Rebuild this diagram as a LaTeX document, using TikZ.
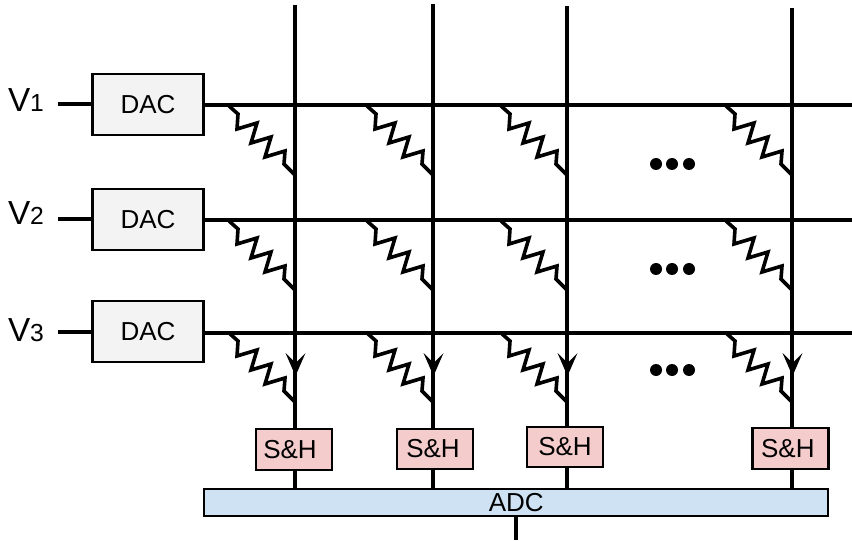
\documentclass[tikz,border=0pt]{standalone}
\usepackage{fontspec}
\setmainfont{Liberation Sans}
\definecolor{dacfill}{HTML}{F3F3F3}
\definecolor{shfill}{HTML}{F4CCCC}
\definecolor{adcfill}{HTML}{CFE2F3}
\tikzset{
  boxbase/.style={draw=black,line width=1.6pt,inner sep=0pt,outer sep=0pt,font=\fontsize{19.5pt}{22pt}\selectfont},
  dacbox/.style={boxbase,fill=dacfill,minimum width=83.25pt,minimum height=45.75pt},
  shbox/.style={boxbase,fill=shfill,minimum width=57pt,minimum height=30.5pt},
  adcbox/.style={boxbase,fill=adcfill,minimum width=467.75pt,minimum height=20.25pt},
  wire/.style={line width=3pt},
  reswire/.style={line width=2.7pt,line join=miter,miter limit=4},
  volt/.style={anchor=base west,inner sep=0pt,outer sep=0pt,font=\fontsize{25pt}{28pt}\selectfont},
  dotmark/.style={circle,fill=black,inner sep=0pt,minimum size=9pt}
}
\newcommand{\vlabel}[1]{V{\fontsize{18.5pt}{20pt}\selectfont #1}}
\begin{document}
\begin{tikzpicture}[x=0.75pt,y=-0.75pt]
\useasboundingbox (0,0) rectangle (852,541);
% boxes
\node[dacbox] (d1) at (148,104.5) {DAC};
\node[dacbox] (d2) at (148,219.5) {DAC};
\node[dacbox] (d3) at (148,331.5) {DAC};
\node[shbox] (s1) at (294,449.5) {S\&H\kern6pt};
\node[shbox] (s2) at (435,449) {S\&H\kern3pt};
\node[shbox] (s3) at (565,447) {S\&H};
\node[shbox] (s4) at (790.5,448.5) {S\&H\kern4pt};
\node[adcbox] (adc) at (516.25,502.5) {ADC};
% labels
\node[volt] (v1) at (8,112) {\vlabel{1}};
\node[volt] (v2) at (8,225) {\vlabel{2}};
\node[volt] (v3) at (8,341) {\vlabel{3}};
% free ends
\coordinate (l1) at (58,104.5);
\coordinate (l2) at (58,219.5);
\coordinate (l3) at (58,331.5);
\coordinate (r1) at (852,105.5);
\coordinate (r2) at (852,220.5);
\coordinate (r3) at (852,332.5);
\coordinate (t1) at (295,5);
\coordinate (t2) at (433,4);
\coordinate (t3) at (567,6);
\coordinate (t4) at (792,8);
\coordinate (out) at (516,540);
% input stubs and row lines
\foreach \i in {1,2,3}{
  \draw[wire] (l\i) -- (d\i.west);
  \draw[wire] (d\i.east |- r\i) -- (r\i);
}
% column lines
\foreach \i in {1,2,3,4}{
  \draw[wire] (t\i) -- (s\i.north -| t\i);
  \draw[wire] (s\i.south -| t\i) -- (adc.north -| t\i);
}
\draw[wire] (adc.south -| out) -- (out);
% resistors
\foreach \cx in {295,433,567,792}{
  \foreach \ry in {105,220,332}{
    \draw[reswire,shift={(\cx,\ry)}]
      (-66,1) -- (-57,9) -- (-58,24) -- (-38,18) -- (-44,38) -- (-24,32)
      -- (-30,52) -- (-10,46) -- (-11,59) -- (0,70);
  }
}
% arrowheads
\foreach \cx in {295.5,433.5,567.5,792.5}{
  \fill[shift={(\cx,0)}] (0,376) -- (-10,353) -- (0,363) -- (10,353) -- cycle;
}
% ellipsis dots
\foreach \dy in {164,269,370}{
  \foreach \dx in {656,672,689}{
    \node[dotmark] at (\dx,\dy) {};
  }
}
\end{tikzpicture}
\end{document}
